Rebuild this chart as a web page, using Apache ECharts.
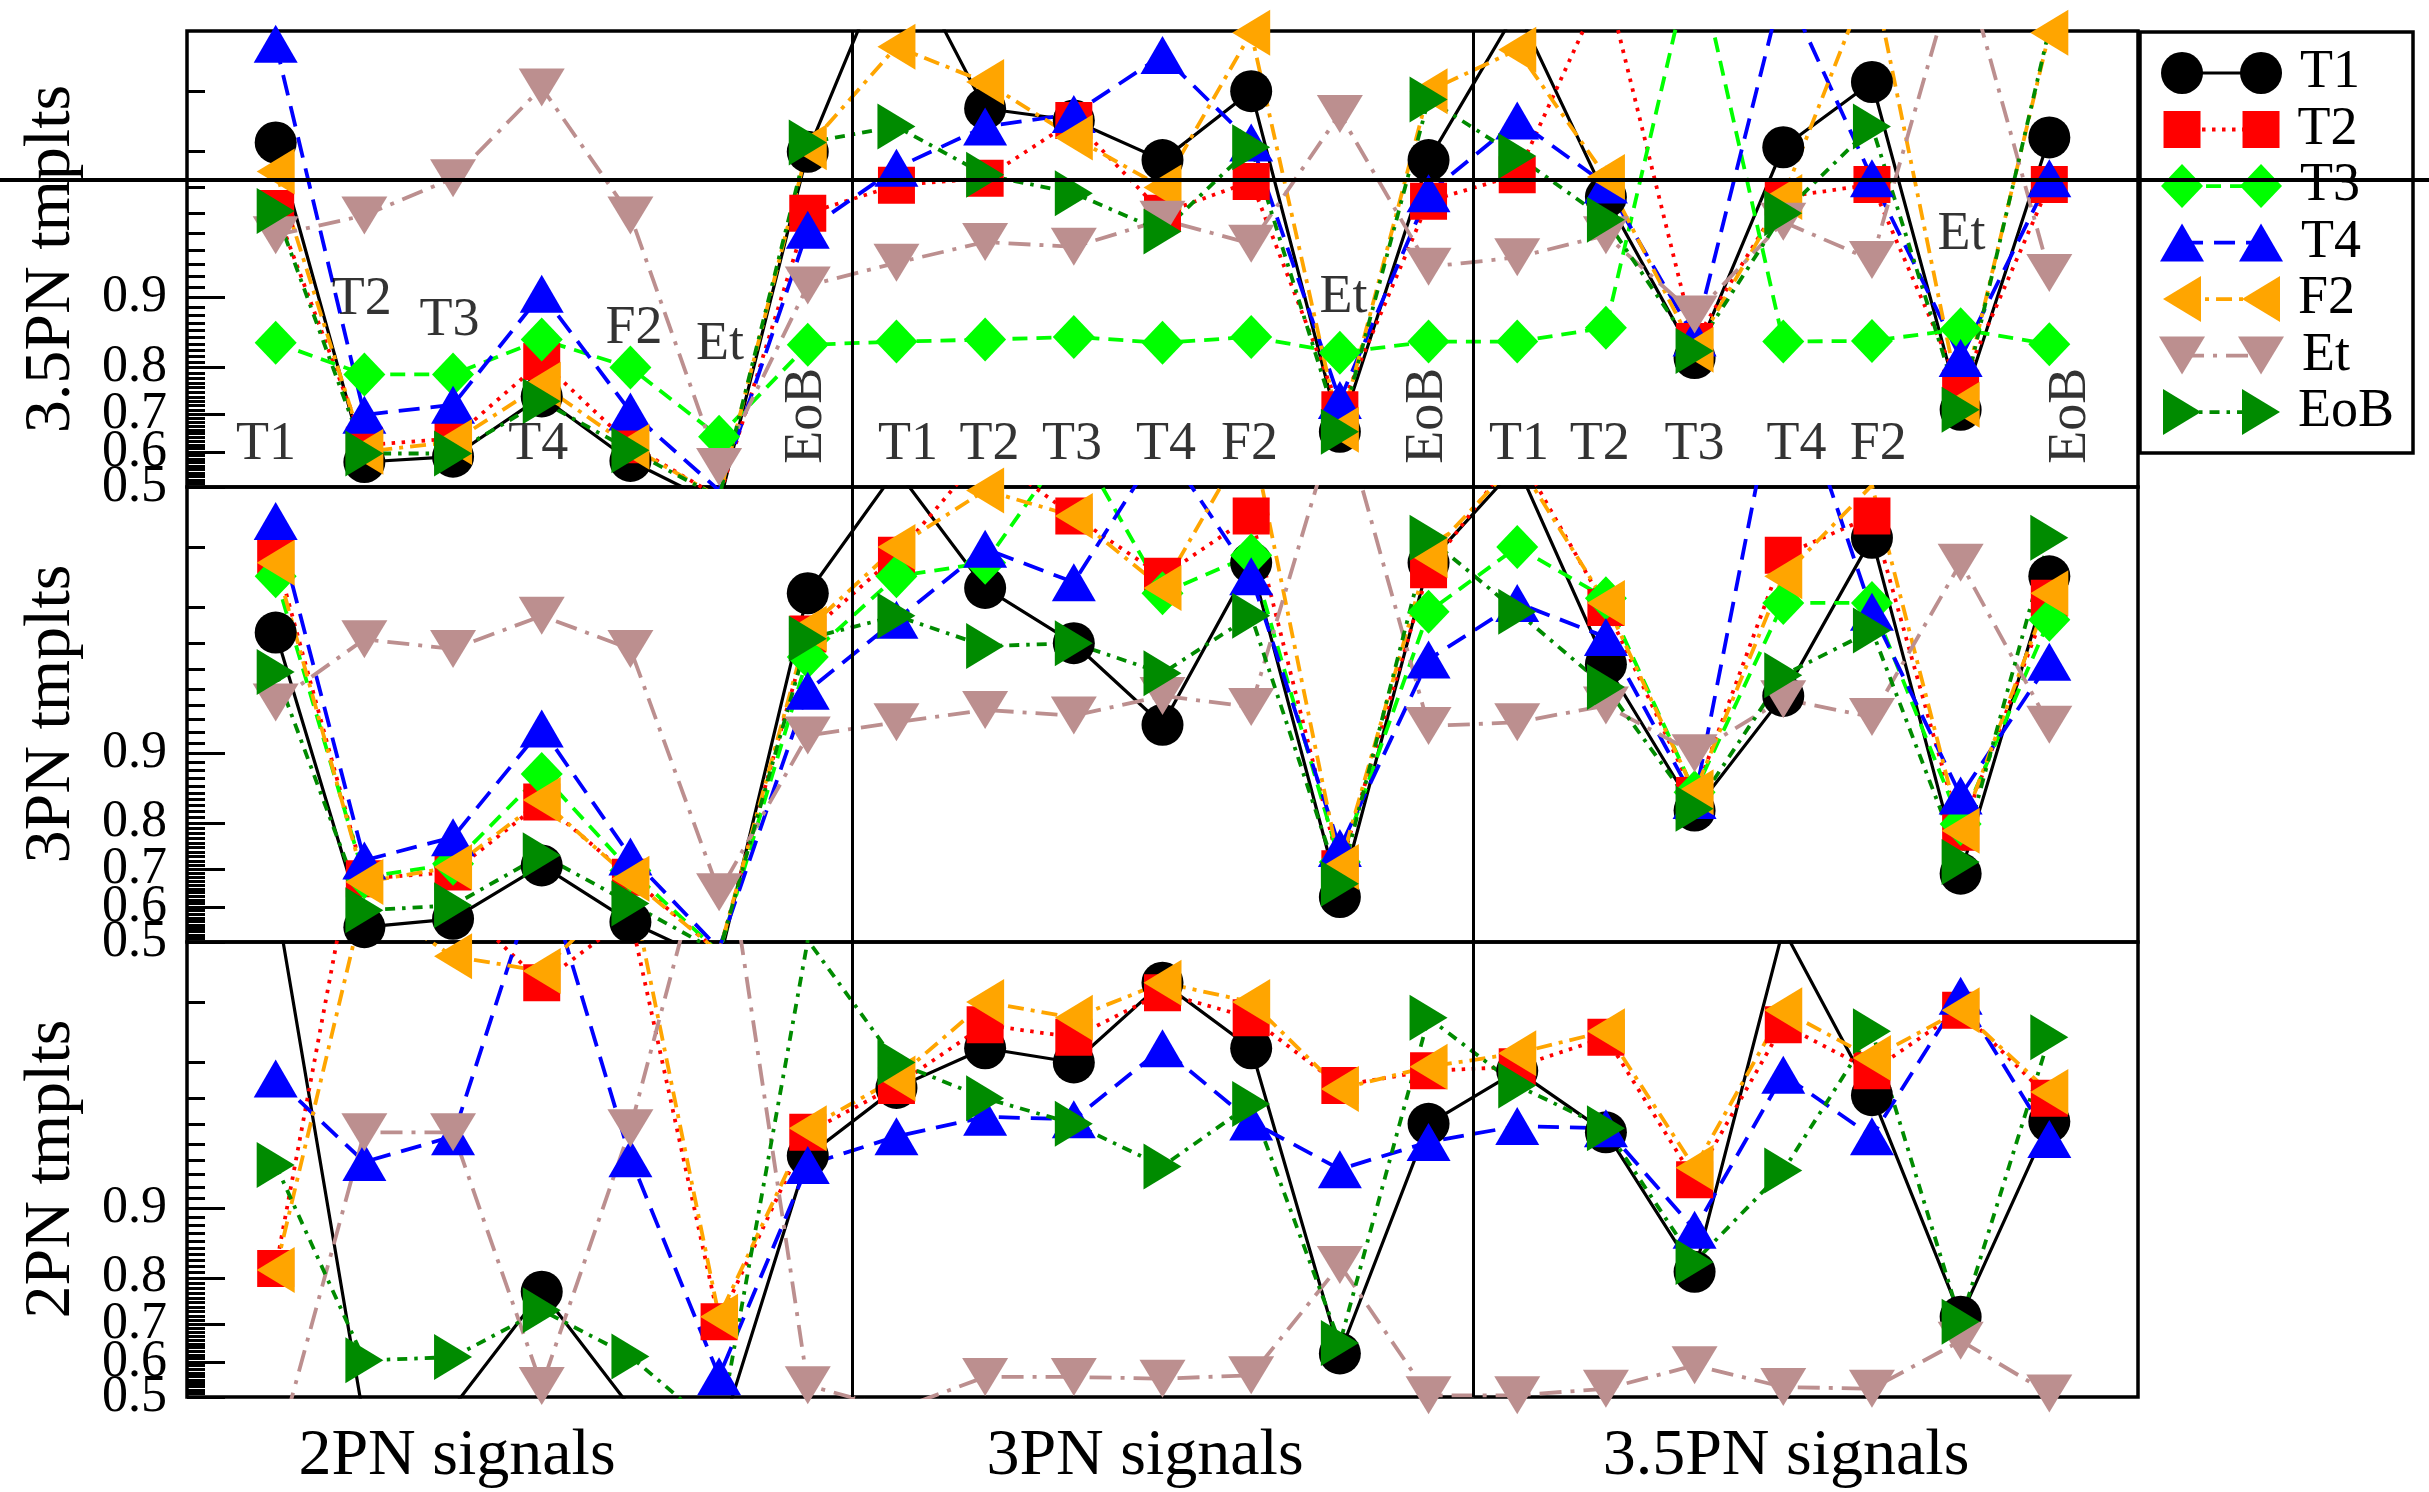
<!DOCTYPE html>
<html>
<head>
<meta charset="utf-8">
<script src="https://cdn.jsdelivr.net/npm/echarts@6/dist/echarts.min.js"></script>
<style>
html,body{margin:0;padding:0;background:#fff;}
#chart{width:2429px;height:1492px;}
</style>
</head>
<body>
<div id="chart"></div>
<script>
// ---------------- data ----------------
const templates = ['T1', 'T2', 'T3', 'T4', 'F2', 'Et', 'EoB'];
const rowTitles = ['3.5PN tmplts', '3PN tmplts', '2PN tmplts'];
const colTitles = ['2PN signals', '3PN signals', '3.5PN signals'];
const yTickValues = [0.5, 0.6, 0.7, 0.8, 0.9];
const yTickLabels = ['0.5', '0.6', '0.7', '0.8', '0.9'];
const yTop = 0.995;

// Each series: 21 signals (T1..EoB for 2PN, 3PN, 3.5PN signals)
// 3.5PN templates
const t35_T1  = [0.982,0.572,0.587,0.741,0.575,0.447,0.980, 0.9983,0.9878,0.986,0.978,0.990,0.655,0.978, 0.9961,0.9666,0.817,0.981,0.991,0.710,0.983];
const t35_T2  = [0.962,0.619,0.637,0.811,0.620,0.470,0.960, 0.9708,0.973,0.986,0.960,0.972,0.710,0.965, 0.974,0.9972,0.844,0.9666,0.971,0.759,0.971];
const t35_T3  = [0.842,0.787,0.787,0.847,0.800,0.642,0.839, 0.844,0.847,0.851,0.842,0.851,0.826,0.844, 0.844,0.864,0.9981,0.844,0.845,0.862,0.840];
const t35_T4  = [0.9942,0.698,0.722,0.904,0.706,0.490,0.952, 0.976,0.985,0.987,0.9934,0.982,0.733,0.968, 0.986,0.971,0.850,0.9971,0.973,0.817,0.973];
const t35_F2  = [0.975,0.601,0.628,0.766,0.615,0.470,0.981, 0.9940,0.991,0.983,0.970,0.9949,0.660,0.990, 0.9938,0.9734,0.831,0.9666,0.9975,0.722,0.9949];
const t35_Et  = [0.949,0.959,0.973,0.9904,0.959,0.558,0.912, 0.931,0.945,0.942,0.957,0.944,0.987,0.928, 0.935,0.949,0.881,0.956,0.933,0.998,0.923];
const t35_EoB = [0.961,0.596,0.596,0.730,0.605,0.470,0.982, 0.985,0.974,0.968,0.951,0.981,0.655,0.989, 0.979,0.957,0.829,0.960,0.985,0.710,0.9951];
// 3PN templates
const t3_T1  = [0.9734,0.543,0.567,0.709,0.558,0.438,0.983, 0.9959,0.984,0.970,0.926,0.988,0.628,0.988, 0.9961,0.962,0.822,0.946,0.991,0.689,0.986];
const t3_T2  = [0.989,0.676,0.693,0.836,0.680,0.470,0.973, 0.989,0.9967,0.9930,0.986,0.993,0.701,0.987, 0.9967,0.980,0.846,0.989,0.993,0.782,0.982];
const t3_T3  = [0.986,0.680,0.713,0.876,0.697,0.470,0.965, 0.986,0.988,0.9972,0.983,0.989,0.717,0.979, 0.990,0.982,0.851,0.981,0.981,0.798,0.977];
const t3_T4  = [0.9926,0.721,0.772,0.923,0.730,0.480,0.949, 0.977,0.9898,0.985,0.997,0.986,0.749,0.964, 0.981,0.972,0.839,0.999,0.979,0.846,0.963];
const t3_F2  = [0.988,0.668,0.705,0.839,0.676,0.470,0.9745, 0.990,0.9948,0.993,0.984,0.9973,0.705,0.989, 0.9963,0.981,0.851,0.986,0.9951,0.785,0.983];
const t3_Et  = [0.942,0.9713,0.968,0.978,0.968,0.641,0.917, 0.928,0.937,0.933,0.946,0.939,0.998,0.925, 0.928,0.940,0.900,0.944,0.932,0.988,0.926];
const t3_EoB = [0.9585,0.591,0.605,0.733,0.610,0.470,0.9715, 0.978,0.969,0.970,0.958,0.978,0.663,0.991, 0.979,0.951,0.825,0.957,0.974,0.717,0.991];
// 2PN templates (T3 set not shown in this row)
const t2_T1  = [0.997,0.426,0.470,0.773,0.470,0.380,0.943, 0.9733,0.983,0.980,0.992,0.983,0.624,0.960, 0.978,0.956,0.811,0.9957,0.971,0.718,0.961];
const t2_T2  = [0.817,0.9991,0.997,0.992,0.9963,0.706,0.956, 0.974,0.987,0.985,0.991,0.988,0.974,0.978, 0.979,0.985,0.926,0.987,0.978,0.989,0.970];
const t2_T3  = [];
const t2_T4  = [0.976,0.939,0.954,0.998,0.9415,0.560,0.937, 0.954,0.963,0.962,0.983,0.961,0.934,0.951, 0.959,0.958,0.875,0.977,0.954,0.9907,0.9526];
const t2_F2  = [0.814,0.997,0.9941,0.993,0.9975,0.718,0.958, 0.976,0.990,0.988,0.992,0.990,0.973,0.979, 0.982,0.986,0.935,0.989,0.981,0.989,0.972];
const t2_Et  = [0.334,0.956,0.956,0.532,0.958,0.9991,0.534, 0.463,0.558,0.558,0.553,0.563,0.823,0.505, 0.505,0.524,0.591,0.529,0.524,0.658,0.510];
const t2_EoB = [0.937,0.605,0.614,0.733,0.616,0.400,0.9951, 0.980,0.970,0.960,0.936,0.968,0.652,0.988, 0.974,0.958,0.828,0.933,0.986,0.706,0.985];

// in-panel signal annotations of the top row (text, signal position, fitting factor)
const noteText = ['T1','T2','T3','T4','F2','Et','EoB','T1','T2','T3','T4','F2','Et','EoB','T1','T2','T3','T4','F2','Et','EoB'];
const noteX = [0.89,1.97,2.96,3.96,5.04,6.01,6.99, 8.13,9.05,9.98,11.04,11.98,13.04,13.99, 15.02,15.93,17.0,18.15,19.07,20.01,21.24];
const noteY = [0.62,0.898,0.873,0.62,0.863,0.839,0.696, 0.62,0.62,0.62,0.62,0.62,0.90,0.696, 0.62,0.62,0.62,0.62,0.62,0.949,0.696];

// ---------------- build ----------------
const logit = v => Math.log(v / (1 - v));
const LMAX = logit(yTop);
const majorL = yTickValues.map(logit);
const minorL = [];
for (let i = 51; i <= 99; i++) if (i % 10 !== 0) minorL.push(logit(i / 100));
// labels split over two coincident axes so that the crowded ones are all drawn
const labelSetA = [0, 2, 3, 4].map(i => majorL[i]);
const labelSetB = [1].map(i => majorL[i]);
const fmt = v => { const i = majorL.findIndex(m => Math.abs(m - v) < 1e-6); return i >= 0 ? yTickLabels[i] : ''; };

const rowsData = [
  [t35_T1, t35_T2, t35_T3, t35_T4, t35_F2, t35_Et, t35_EoB],
  [t3_T1, t3_T2, t3_T3, t3_T4, t3_F2, t3_Et, t3_EoB],
  [t2_T1, t2_T2, t2_T3, t2_T4, t2_F2, t2_Et, t2_EoB]
];

const FONT = 'Liberation Serif';
const sty = {
  T1:  {color:'#000000', symbol:'circle', size:42, dash:'solid', w:3.2},
  T2:  {color:'#ff0000', symbol:'rect', size:37, dash:[3.5,6.5], w:3.8},
  T3:  {color:'#00ff00', symbol:'diamond', size:[42,44], dash:[15,9], w:3.8},
  T4:  {color:'#0000ff', symbol:'triangle', size:[44,38], dash:[21,11], w:3.8},
  F2:  {color:'#ffa500', symbol:'path://M10,0L0,5L10,10Z', size:[38,46], dash:[16,7,4,7], w:3.8},
  Et:  {color:'#bc8f8f', symbol:'path://M0,0L10,0L5,10Z', size:[46,38], dash:[22,9,4,9], w:3.8},
  EoB: {color:'#008b00', symbol:'path://M0,0L10,5L0,10Z', size:[38,46], dash:[10,7,3.5,7], w:3.8}
};

const gridTops = [31, 487, 942];
const gridHeights = [456, 455, 455];
const grids = [], xAxes = [], yAxes = [], series = [];
const labStyle = {showMinLabel:true, showMaxLabel:true, hideOverlap:false,
  margin:20, fontSize:52, fontFamily:FONT, color:'#000', formatter:fmt};

gridTops.forEach((top, r) => {
  grids.push({left:187, top:top, width:1951, height:gridHeights[r], show:true,
    borderColor:'#000', borderWidth:3.5, backgroundColor:'transparent', containLabel:false});
  xAxes.push({type:'value', gridIndex:r, min:0, max:22, show:false});
  yAxes.push({
    type:'value', gridIndex:r, min:0, max:LMAX, position:'left',
    axisLine:{show:false}, splitLine:{show:false},
    axisTick:{show:true, inside:true, length:38, customValues:majorL, lineStyle:{color:'#000', width:3}},
    axisLabel:Object.assign({show:true, customValues:labelSetA}, labStyle)
  });
  yAxes.push({
    type:'value', gridIndex:r, min:0, max:LMAX, position:'left',
    axisLine:{show:false}, splitLine:{show:false},
    axisTick:{show:true, inside:true, length:18, customValues:minorL, lineStyle:{color:'#000', width:3}},
    axisLabel:Object.assign({show:true, customValues:labelSetB}, labStyle, {showMinLabel:true})
  });
});

rowsData.forEach((row, r) => {
  row.forEach((arr, k) => {
    const s = sty[templates[k]];
    const ser = {
      type:'line', name:templates[k], xAxisIndex:r, yAxisIndex:2*r,
      data: arr.map((v, i) => [i + 1, logit(v)]),
      symbol:s.symbol, symbolSize:s.size, showSymbol:true, showAllSymbol:true,
      itemStyle:{color:s.color, borderWidth:0},
      lineStyle:{color:s.color, width:s.w, type:s.dash},
      clip:true, silent:true, animation:false,
      emphasis:{disabled:true}
    };
    if (k === 0) {
      ser.markLine = {silent:true, symbol:'none', animation:false,
        label:{show:false},
        lineStyle:{color:'#000', width:3, type:'solid'},
        data:[{xAxis:7.5}, {xAxis:14.5}]};
    }
    series.push(ser);
  });
});

// annotations inside the top row
series.push({
  type:'scatter', xAxisIndex:0, yAxisIndex:0, symbolSize:0, silent:true, animation:false, z:10,
  data: noteText.map((t, i) => ({name:t, value:[noteX[i], logit(noteY[i])],
    label:{rotate: t === 'EoB' ? 90 : 0}})),
  label:{show:true, position:'inside', formatter:'{b}', fontSize:54, fontFamily:FONT, color:'#000',
    align:'center', verticalAlign:'middle'}
});

// legend box drawn as its own small plot
grids.push({left:2140, top:32, width:273, height:421, show:true, borderColor:'#000', borderWidth:3.5, backgroundColor:'#fff'});
xAxes.push({type:'value', gridIndex:3, min:-0.532, max:2.924, show:false});
yAxes.push({type:'value', gridIndex:3, min:-0.726, max:6.725, inverse:true, show:false});
templates.forEach((t, k) => {
  const s = sty[t];
  series.push({
    type:'line', name:'legend-' + t, xAxisIndex:3, yAxisIndex:6,
    data:[[0, k], {value:[1, k], label:{show:true, position:'right', distance:18, formatter:t,
      fontSize:54, fontFamily:FONT, color:'#000'}}],
    symbol:s.symbol, symbolSize:s.size, showSymbol:true,
    itemStyle:{color:s.color, borderWidth:0},
    lineStyle:{color:s.color, width:s.w, type:s.dash},
    silent:true, animation:false, emphasis:{disabled:true}
  });
});

const textStyle = (txt) => ({text:txt, font:'66px "' + FONT + '"', fill:'#000',
  align:'center', verticalAlign:'middle', textAlign:'center', textVerticalAlign:'middle'});
const graphic = [
  {type:'line', z:100, shape:{x1:0, y1:180, x2:2429, y2:180}, style:{stroke:'#000', lineWidth:4}, silent:true}
];
const rowCenters = [259, 714, 1169];
rowTitles.forEach((t, i) => graphic.push({type:'text', x:52, y:rowCenters[i], rotation:Math.PI/2, style:textStyle(t), silent:true}));
const colCenters = [457, 1145, 1786];
colTitles.forEach((t, i) => graphic.push({type:'text', x:colCenters[i], y:1457, style:textStyle(t), silent:true}));

const chart = echarts.init(document.getElementById('chart'), null, {renderer:'canvas'});
chart.setOption({
  backgroundColor:'#ffffff',
  animation:false,
  grid:grids, xAxis:xAxes, yAxis:yAxes, series:series, graphic:graphic
});
</script>
</body>
</html>
